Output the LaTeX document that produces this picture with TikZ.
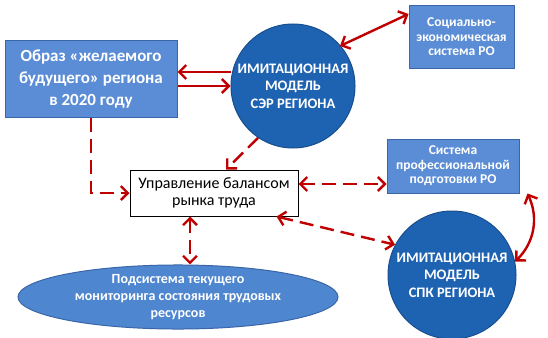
\documentclass[tikz,border=0pt]{standalone}
\usepackage{fontspec}
\setmainfont{Carlito}
\usetikzlibrary{arrows.meta,shapes.geometric}
\definecolor{boxblue}{HTML}{5B8DD6}
\definecolor{boxborder}{HTML}{3A66A8}
\definecolor{circblue}{HTML}{1E62B2}
\definecolor{circborder}{HTML}{184E8E}
\definecolor{ellblue}{HTML}{4F86D0}
\definecolor{arrred}{HTML}{C00000}
\tikzset{
  bluebox/.style={draw=boxborder,line width=1pt,fill=boxblue,text=white,align=center,inner sep=0pt},
  bluecirc/.style={draw=circborder,line width=1pt,fill=circblue,text=white,circle,align=center,inner sep=0pt},
  tip/.tip={Straight Barb[length=7pt,width=14pt,line width=2.4pt]},
  arr/.style={draw=arrred,line width=2.4pt,-tip},
  darr/.style={draw=arrred,line width=2.4pt,tip-tip},
  dsh/.style={dash pattern=on 14pt off 7pt}
}
\begin{document}
\begin{tikzpicture}[x=1pt,y=-1pt]
\useasboundingbox (0,0) rectangle (548,337);
% nodes
\node[bluebox,minimum width=172pt,minimum height=76pt,font=\fontsize{17}{22}\selectfont\bfseries] (obraz) at (91,79) {Образ «желаемого\\будущего» региона\\в 2020 году};
\node[bluecirc,minimum size=124pt,font=\fontsize{14.5}{17.5}\selectfont\bfseries] (ser) at (293,86) {ИМИТАЦИОННАЯ\\МОДЕЛЬ\\СЭР РЕГИОНА};
\node[bluebox,minimum width=105pt,minimum height=63pt,font=\fontsize{13.5}{14.5}\selectfont\bfseries] (soc) at (461.5,37) {Социально-\\экономическая\\система РО};
\node[bluebox,minimum width=132pt,minimum height=54pt,font=\fontsize{13.5}{14.5}\selectfont\bfseries] (sys) at (453,166) {Система\\профессиональной\\подготовки РО};
\node[draw=black,line width=1pt,fill=white,minimum width=168pt,minimum height=46pt,align=center,inner sep=0pt,font=\fontsize{16}{17}\selectfont] (upr) at (214,193) {Управление балансом\\рынка труда};
\node[bluecirc,minimum size=128pt,font=\fontsize{14.5}{17.5}\selectfont\bfseries] (spk) at (452,275) {ИМИТАЦИОННАЯ\\МОДЕЛЬ\\СПК РЕГИОНА};
\node[ellipse,draw=boxborder,line width=1pt,fill=ellblue,text=white,font=\fontsize{14}{17}\selectfont\bfseries,align=center,inner sep=0pt,minimum width=320pt,minimum height=64pt] (ell) at (178,297) {Подсистема текущего\\мониторинга состояния трудовых\\ресурсов};
% connectors
\coordinate (c1) at (91,193);
\draw[arr] (obraz.east |- 0,86) -- (ser.west |- 0,86);
\draw[arr] ([yshift=14pt]ser.west |- 0,86) -- ([yshift=14pt]obraz.east |- 0,86);
\draw[darr] (ser) ++(47,-40) coordinate (s1) (s1) -- (soc.west |- 0,14);
\draw[arr,dsh] (ser.236) -- ([xshift=12pt]upr.north);
\draw[arr,dsh] (obraz.south) -- (c1) -- (upr.west |- c1);
\draw[darr,dsh] (upr.east |- 0,184) -- (sys.west |- 0,184);
\draw[darr,dsh] ([xshift=-22pt]upr.south east) -- (spk.152);
\draw[darr,dsh] (upr.south -| 190,0) -- (ell.north -| 190,0);
\draw[darr] ([xshift=8pt]sys.south east) to[bend left=35] (spk.12);
\end{tikzpicture}
\end{document}
